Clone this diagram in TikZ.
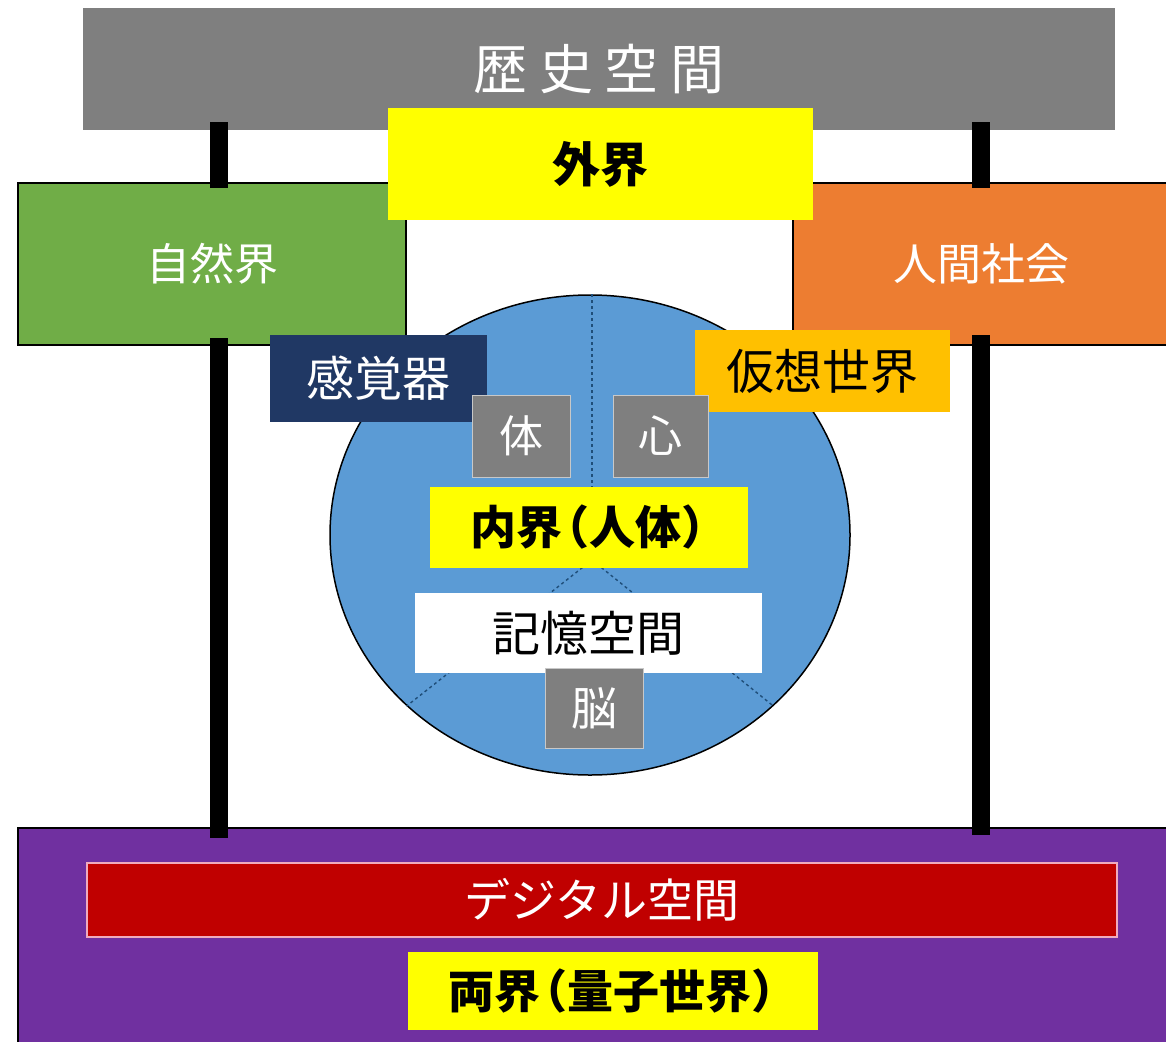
\documentclass[tikz,border=0pt]{standalone}
\usepackage{fontspec}
\setmainfont{Noto Sans CJK JP}
\newfontfamily\spacedfont[LetterSpace=22]{Noto Sans CJK JP}
\usetikzlibrary{shapes.geometric}
\definecolor{cgray}{HTML}{7F7F7F}
\definecolor{cyellow}{HTML}{FFFF00}
\definecolor{cgreen}{HTML}{70AD47}
\definecolor{corange}{HTML}{ED7D31}
\definecolor{cblue}{HTML}{5B9BD5}
\definecolor{cnavy}{HTML}{203864}
\definecolor{camber}{HTML}{FFC000}
\definecolor{cpurple}{HTML}{7030A0}
\definecolor{cred}{HTML}{C00000}
\definecolor{cdash}{HTML}{1F4E79}
\newcommand{\lpar}{\kern-19pt（}
\newcommand{\rpar}{）\kern-19pt}
\begin{document}
\begin{tikzpicture}[x=1pt,y=-1pt,
  box/.style={rectangle, inner sep=0pt, outer sep=0pt, align=center},
  fs/.style={font=\fontsize{#1}{#1}\selectfont},
  bar/.style={line width=18pt, black},
  dash line/.style={dashed, cdash, line width=1.4pt}]
\useasboundingbox (0,0) rectangle (1166,1041);
\fill[white] (0,0) rectangle (1166,1041);

% top gray bar
\node[box, fill=cgray, minimum width=1032, minimum height=122, text=white] (hist) at (599,69) {\spacedfont\fontsize{54}{54}\selectfont 歴史空間};

% side boxes
\node[box, fill=cgreen, draw=black, line width=1.5pt, minimum width=388, minimum height=162, text=white, fs=44] (nat) at (212,264) {自然界};
\node[box, fill=corange, draw=black, line width=1.5pt, minimum width=377, minimum height=162, text=white, fs=44] (soc) at (981.5,264) {人間社会};

% outer world
\node[box, fill=cyellow, minimum width=425, minimum height=112, font=\bfseries\fontsize{48}{48}\selectfont] (ext) at (600.5,164) {外界};

% bottom purple
\node[box, fill=cpurple, draw=black, line width=1.5pt, minimum width=1152, minimum height=217] (both) at (594,936.5) {};
\node[box, fill=cred, draw={rgb,255:red,240;green,170;blue,190}, line width=1.2pt, minimum width=1030, minimum height=74, text=white, fs=46] (dig) at (602,900) {デジタル空間};
\node[box, fill=cyellow, minimum width=410, minimum height=78, font=\bfseries\fontsize{46}{46}\selectfont] (ryo) at (613,991) {両界\lpar 量子世界\rpar};

% connector bars
\coordinate (lx) at (219,0);
\coordinate (rx) at (981,0);
\draw[bar, shorten <=-8pt, shorten >=-5pt] (hist.south -| lx) -- (nat.north -| lx);
\draw[bar, shorten <=-8pt, shorten >=-5pt] (hist.south -| rx) -- (soc.north -| rx);
\draw[bar, shorten <=-7pt, shorten >=-10pt] (nat.south -| lx) -- (both.north -| lx);
\draw[bar, shorten <=-10pt, shorten >=-7pt] (soc.south -| rx) -- (both.north -| rx);

% human body circle
\node[ellipse, fill=cblue, draw=black, line width=1.5pt, minimum width=520, minimum height=480, inner sep=0pt] (ell) at (590,535) {};
\coordinate (yc) at (592,560);
\draw[dash line] (ell.north -| yc) -- (yc);
\draw[dash line] (yc) -- (ell.223);
\draw[dash line] (yc) -- (ell.317);

\node[box, fill=cnavy, minimum width=217, minimum height=87, text=white, fs=48] (sense) at (378.5,378.5) {感覚器};
\node[box, fill=camber, minimum width=255, minimum height=82, fs=48] (virt) at (822.5,371) {仮想世界};
\node[box, fill=cgray, draw={rgb,255:red,200;green,200;blue,200}, line width=1pt, minimum width=98, minimum height=82, text=white, fs=44] (body) at (521,436) {体};
\node[box, fill=cgray, draw={rgb,255:red,200;green,200;blue,200}, line width=1pt, minimum width=95, minimum height=82, text=white, fs=44] (mind) at (660.5,436) {心};
\node[box, fill=cyellow, minimum width=318, minimum height=81, font=\bfseries\fontsize{46}{46}\selectfont] (inner) at (589,527.5) {内界\lpar 人体\rpar};
\node[box, fill=white, minimum width=347, minimum height=80, fs=48] (mem) at (588.5,633) {記憶空間};
\node[box, fill=cgray, draw={rgb,255:red,200;green,200;blue,200}, line width=1pt, minimum width=98, minimum height=80, text=white, fs=46] (brain) at (594,708) {脳};
\end{tikzpicture}
\end{document}
